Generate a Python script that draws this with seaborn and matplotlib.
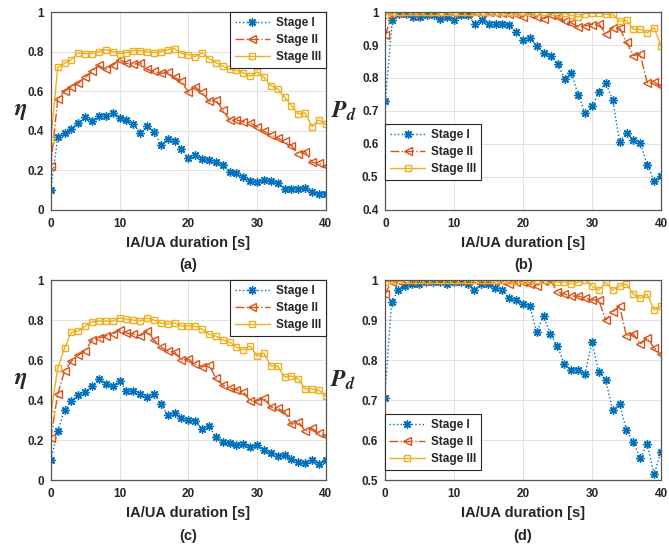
import numpy as np
import pandas as pd
import matplotlib
matplotlib.use('Agg')
import matplotlib.pyplot as plt
import seaborn as sns
from matplotlib.ticker import FuncFormatter

# x axis: IA/UA duration in seconds
duration = list(range(41))
stage_names = ['Stage I', 'Stage II', 'Stage III']

# (a) eta
eta_a_s1 = [0.10, 0.37, 0.39, 0.41, 0.44, 0.47, 0.45, 0.475, 0.475, 0.49, 0.465,
            0.455, 0.435, 0.39, 0.425, 0.395, 0.33, 0.36, 0.35, 0.31, 0.26,
            0.275, 0.255, 0.25, 0.24, 0.225, 0.19, 0.185, 0.165, 0.145, 0.14,
            0.15, 0.145, 0.135, 0.105, 0.105, 0.105, 0.11, 0.09, 0.08, 0.08]
eta_a_s2 = [0.22, 0.56, 0.60, 0.62, 0.64, 0.67, 0.70, 0.73, 0.71, 0.73, 0.76,
            0.74, 0.735, 0.745, 0.71, 0.70, 0.69, 0.695, 0.67, 0.65, 0.595,
            0.62, 0.595, 0.55, 0.555, 0.505, 0.455, 0.455, 0.445, 0.44, 0.42,
            0.397, 0.38, 0.363, 0.346, 0.325, 0.285, 0.295, 0.24, 0.235, 0.22]
eta_a_s3 = [0.355, 0.72, 0.74, 0.76, 0.795, 0.79, 0.79, 0.80, 0.81, 0.80, 0.79,
            0.795, 0.805, 0.805, 0.80, 0.795, 0.80, 0.81, 0.815, 0.79, 0.785,
            0.775, 0.795, 0.765, 0.745, 0.727, 0.71, 0.705, 0.693, 0.675, 0.698,
            0.67, 0.628, 0.613, 0.57, 0.527, 0.485, 0.49, 0.42, 0.455, 0.432]

# (b) Pd
pd_b_s1 = [0.73, 0.975, 0.995, 0.995, 0.985, 0.985, 0.99, 0.99, 0.98, 0.985, 0.975,
           0.99, 0.99, 0.965, 0.975, 0.965, 0.965, 0.965, 0.96, 0.94, 0.915,
           0.92, 0.897, 0.875, 0.866, 0.843, 0.798, 0.815, 0.748, 0.693, 0.714,
           0.758, 0.785, 0.733, 0.607, 0.633, 0.613, 0.603, 0.537, 0.487, 0.503]
pd_b_s2 = [0.93, 0.995, 0.998, 0.999, 0.998, 0.999, 0.998, 0.999, 0.998, 0.999, 0.998,
           0.999, 0.998, 0.999, 0.998, 0.999, 0.998, 0.998, 0.995, 0.995, 0.985,
           0.995, 0.985, 0.98, 0.99, 0.985, 0.972, 0.967, 0.955, 0.958, 0.962,
           0.964, 0.932, 0.953, 0.952, 0.908, 0.868, 0.872, 0.785, 0.788, 0.775]
pd_b_s3 = [0.99, 0.999, 0.999, 0.999, 0.999, 0.999, 0.999, 0.999, 0.999, 0.999, 0.999,
           0.999, 0.999, 0.999, 0.999, 0.999, 0.999, 0.999, 0.999, 0.999, 0.999,
           0.999, 0.999, 0.999, 0.999, 0.997, 0.997, 0.99, 0.985, 0.995, 0.997,
           0.997, 0.993, 0.993, 0.972, 0.975, 0.948, 0.948, 0.937, 0.953, 0.898]

# (c) eta
eta_c_s1 = [0.10, 0.245, 0.35, 0.395, 0.425, 0.44, 0.47, 0.505, 0.48, 0.47, 0.495,
            0.445, 0.445, 0.43, 0.415, 0.43, 0.38, 0.325, 0.335, 0.31, 0.30,
            0.295, 0.255, 0.27, 0.215, 0.19, 0.185, 0.175, 0.18, 0.165, 0.175,
            0.15, 0.135, 0.12, 0.125, 0.105, 0.09, 0.085, 0.10, 0.08, 0.10]
eta_c_s2 = [0.21, 0.43, 0.545, 0.595, 0.625, 0.645, 0.70, 0.71, 0.72, 0.73, 0.75,
            0.735, 0.73, 0.72, 0.745, 0.70, 0.665, 0.645, 0.64, 0.60, 0.605,
            0.58, 0.565, 0.575, 0.51, 0.475, 0.46, 0.452, 0.442, 0.395, 0.395,
            0.41, 0.365, 0.36, 0.34, 0.278, 0.292, 0.245, 0.258, 0.235, 0.22]
eta_c_s3 = [0.33, 0.56, 0.66, 0.74, 0.745, 0.77, 0.79, 0.795, 0.795, 0.795, 0.81,
            0.805, 0.80, 0.795, 0.81, 0.80, 0.785, 0.78, 0.785, 0.77, 0.77,
            0.77, 0.755, 0.73, 0.72, 0.70, 0.69, 0.665, 0.65, 0.67, 0.62,
            0.635, 0.57, 0.57, 0.515, 0.52, 0.505, 0.455, 0.455, 0.45, 0.42]

# (d) Pd
pd_d_s1 = [0.705, 0.945, 0.975, 0.985, 0.99, 0.99, 0.995, 0.995, 0.995, 0.99, 0.995,
           0.995, 0.99, 0.975, 0.99, 0.99, 0.98, 0.975, 0.955, 0.95, 0.94,
           0.935, 0.87, 0.91, 0.865, 0.835, 0.79, 0.775, 0.775, 0.765, 0.845,
           0.77, 0.75, 0.675, 0.69, 0.625, 0.595, 0.555, 0.59, 0.515, 0.57]
pd_d_s2 = [0.965, 0.995, 0.998, 0.999, 0.998, 0.999, 0.998, 0.999, 0.998, 0.999, 0.998,
           0.999, 0.998, 0.999, 0.998, 0.999, 0.998, 0.998, 0.99, 0.995, 0.995,
           0.99, 0.985, 0.998, 1.0, 0.97, 0.965, 0.96, 0.96, 0.955, 0.95,
           0.95, 0.90, 0.92, 0.935, 0.86, 0.865, 0.84, 0.855, 0.83, 0.815]
pd_d_s3 = [0.995, 0.999, 0.999, 0.999, 0.999, 0.999, 0.999, 0.999, 0.999, 0.999, 0.999,
           0.999, 0.999, 0.999, 0.999, 0.999, 0.999, 0.999, 0.999, 0.999, 0.999,
           0.999, 0.999, 0.999, 0.999, 0.995, 0.995, 0.99, 0.995, 1.0, 0.985,
           0.975, 0.995, 0.975, 0.985, 0.99, 0.965, 0.955, 0.965, 0.925, 0.935]

sns.set_style("white")
plt.rcParams['font.family'] = ['Liberation Sans', 'DejaVu Sans']
plt.rcParams['font.weight'] = 'bold'
plt.rcParams['mathtext.fontset'] = 'stix'

colors = ['#0072BD', '#D95319', '#EDB120']
styles = [':', '-.', '-']
markers = [(8, 2, 0), '<', 's']
msizes = [6, 6, 5]

fig = plt.figure(figsize=(6.69, 5.48), dpi=100)

panels = [
    ([0.076, 0.617, 0.411, 0.361], [eta_a_s1, eta_a_s2, eta_a_s3], (0, 1), 0.2, r'$\eta$', '(a)', 'upper right', (1, 1)),
    ([0.576, 0.617, 0.412, 0.361], [pd_b_s1, pd_b_s2, pd_b_s3], (0.4, 1), 0.1, r'$P_d$', '(b)', 'lower left', (0, 0.15)),
    ([0.076, 0.124, 0.411, 0.365], [eta_c_s1, eta_c_s2, eta_c_s3], (0, 1), 0.2, r'$\eta$', '(c)', 'upper right', (1, 1)),
    ([0.575, 0.124, 0.413, 0.365], [pd_d_s1, pd_d_s2, pd_d_s3], (0.5, 1), 0.1, r'$P_d$', '(d)', 'lower left', (0, 0.05)),
]

fmt = FuncFormatter(lambda v, p: f'{v:g}')

for rect, series, ylim, ystep, ylab, tag, lloc, anchor in panels:
    ax = fig.add_axes(rect)
    for i, vals in enumerate(series):
        sns.lineplot(x=duration, y=vals, ax=ax, color=colors[i], linestyle=styles[i],
                     linewidth=1.0, marker=markers[i], markersize=msizes[i],
                     markerfacecolor='none', markeredgecolor=colors[i],
                     markeredgewidth=1.0, label=stage_names[i])
    ax.set_xlim(0, 40)
    ax.set_ylim(*ylim)
    ax.set_xticks([0, 10, 20, 30, 40])
    ax.set_yticks(np.round(np.arange(ylim[0], 1.0001, ystep), 2))
    ax.yaxis.set_major_formatter(fmt)
    ax.grid(True, color='#e3e3e3', linewidth=0.7)
    ax.set_axisbelow(True)
    for s in ax.spines.values():
        s.set_color('#555555')
        s.set_linewidth(0.9)
    ax.tick_params(direction='in', length=3, labelsize=8.5, colors='#262626',
                   width=0.8)
    ax.tick_params(axis='x', pad=6)
    ax.tick_params(axis='y', pad=5)
    for lab in ax.get_xticklabels() + ax.get_yticklabels():
        lab.set_fontweight('bold')
    ax.set_xlabel('IA/UA duration [s]', fontsize=10.5, fontweight='bold',
                  color='#262626', labelpad=4)
    ax.set_ylabel(ylab, rotation=0, fontsize=17, va='center', ha='center')
    ax.yaxis.set_label_coords(-0.11 if ylab == r'$\eta$' else -0.15, 0.5)
    ax.text(0.5, -0.28, tag, transform=ax.transAxes, ha='center', va='center',
            fontsize=10.5, fontweight='bold', color='#262626')
    leg = ax.legend(loc=lloc, bbox_to_anchor=anchor, borderaxespad=0,
                    prop={'size': 8.5, 'weight': 'bold'}, frameon=True,
                    fancybox=False, framealpha=1, edgecolor='#262626',
                    handlelength=3.0, handletextpad=0.5, labelspacing=0.45,
                    borderpad=0.4)
    leg.get_frame().set_linewidth(0.8)

fig.savefig('out.png', dpi=100)
